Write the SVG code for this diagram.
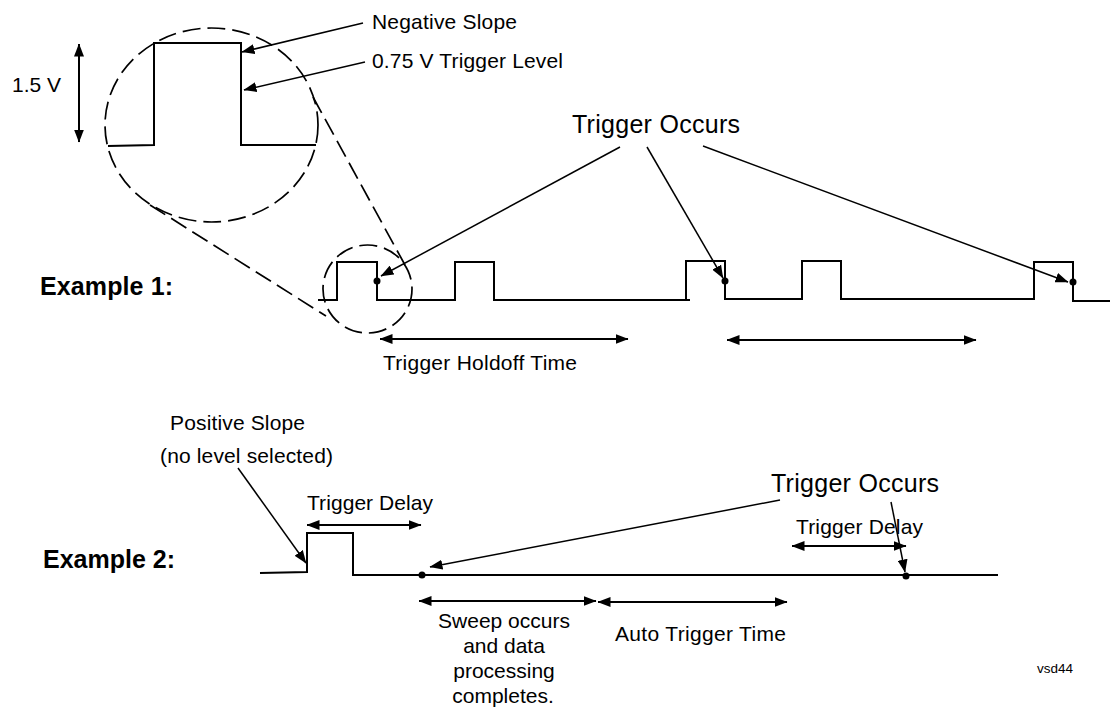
<svg xmlns="http://www.w3.org/2000/svg" width="1113" height="708" viewBox="0 0 1113 708">
<defs>
<marker id="ah" viewBox="0 0 13 10" refX="12.5" refY="5" markerWidth="13" markerHeight="10" markerUnits="userSpaceOnUse" orient="auto-start-reverse">
<path d="M0,0 L13,5 L0,10 z" fill="#000"/>
</marker>
<style>
text{font-family:"Liberation Sans",Arial,sans-serif;fill:#000}
.t{font-size:21px}
.b{font-size:25px;font-weight:bold}
.big{font-size:25px}
.wave{fill:none;stroke:#000;stroke-width:2}
.lead{fill:none;stroke:#000;stroke-width:1.5}
.dash{fill:none;stroke:#000;stroke-width:1.7;stroke-dasharray:18 7}
.dim{fill:none;stroke:#000;stroke-width:2;marker-start:url(#ah);marker-end:url(#ah)}
.arr{fill:none;stroke:#000;stroke-width:1.5;marker-end:url(#ah)}
</style>
</defs>
<rect width="1113" height="708" fill="#fff"/>

<g id="zoom-detail">
<ellipse class="dash" cx="211.5" cy="125" rx="106.5" ry="97"/>
<polyline class="wave" points="108,146 154,145 154,43 241,43 241,145 316,145"/>
<line class="dim" x1="79" y1="44" x2="79" y2="142"/>
<text class="t" x="12" y="92">1.5 V</text>
<line class="dash" x1="150" y1="205" x2="326" y2="316"/>
<line class="dash" x1="313" y1="97" x2="405" y2="265"/>
<ellipse class="dash" cx="367.5" cy="289" rx="44.5" ry="44"/>
</g>

<g id="example1-label"><text class="b" x="40" y="295" textLength="133">Example 1:</text></g>

<g id="example1-wave">
<polyline class="wave" points="318,300 337,300 337,262 377,262 377,300 455,300 455,262 494,262 494,300 690,300"/>
<polyline class="wave" points="686,300 686,261 725,261 725,299 802,299 802,261 841,261 841,299 1034,299"/>
<polyline class="wave" points="1034,300 1034,262 1073,262 1073,301 1110,301"/>
<circle cx="377" cy="281" r="3.5"/>
<circle cx="725" cy="281" r="3.5"/>
<circle cx="1073" cy="282" r="3.5"/>
</g>

<g id="labels-top">
<text class="t" x="372" y="29" textLength="145">Negative Slope</text>
<text class="t" x="372" y="68" textLength="191">0.75 V Trigger Level</text>
<text class="big" x="572" y="133" textLength="168">Trigger Occurs</text>
<text class="t" x="383" y="370" textLength="194">Trigger Holdoff Time</text>
</g>

<g id="example2-label"><text class="b" x="43" y="568" textLength="132">Example 2:</text></g>

<g id="example2-wave">
<polyline class="wave" points="260,573 307,572 307,533 353,533 353,575 998,575"/>
<circle cx="422" cy="575" r="3.5"/>
<circle cx="906" cy="576" r="3.5"/>
</g>

<g id="labels-bottom">
<text class="t" x="170" y="430" textLength="135">Positive Slope</text>
<text class="t" x="160" y="463" textLength="173">(no level selected)</text>
<text class="t" x="307" y="510" textLength="126">Trigger Delay</text>
<text class="big" x="771" y="492" textLength="168">Trigger Occurs</text>
<text class="t" x="796" y="534" textLength="127">Trigger Delay</text>
<text class="t" x="504" y="628" text-anchor="middle">Sweep occurs</text>
<text class="t" x="504" y="653" text-anchor="middle">and data</text>
<text class="t" x="504" y="678" text-anchor="middle">processing</text>
<text class="t" x="503" y="703" text-anchor="middle">completes.</text>
<text class="t" x="615" y="641" textLength="171">Auto Trigger Time</text>
<text x="1037" y="673" style="font-size:13.5px">vsd44</text>
</g>

<g id="connectors">
<line class="arr" x1="363" y1="23" x2="242" y2="52"/>
<line class="arr" x1="365" y1="62" x2="244" y2="90"/>
<line class="arr" x1="620" y1="147" x2="381" y2="276"/>
<line class="arr" x1="647" y1="147" x2="723" y2="278"/>
<line class="arr" x1="703" y1="146" x2="1068" y2="282"/>
<line class="dim" x1="380" y1="339" x2="628" y2="339"/>
<line class="dim" x1="727" y1="340" x2="976" y2="340"/>
<line class="arr" x1="238" y1="468" x2="306" y2="563"/>
<line class="dim" x1="307" y1="525" x2="421" y2="525"/>
<line class="arr" x1="780" y1="500" x2="430" y2="567"/>
<line class="arr" x1="891" y1="502" x2="905" y2="572"/>
<line class="dim" x1="792" y1="546" x2="906" y2="546"/>
<line class="dim" x1="419" y1="601" x2="596" y2="601"/>
<line class="dim" x1="598" y1="602" x2="787" y2="602"/>
</g>
</svg>
